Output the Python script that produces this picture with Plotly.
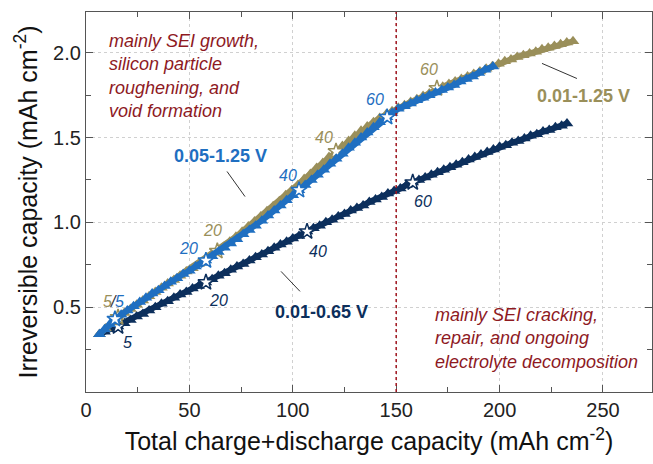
import plotly.graph_objects as go

# ---------------- data ----------------
olive_x = [6.5, 9.5, 12.5, 15.5, 18.5, 21.5, 24.5, 27.5, 30.5, 33.5, 36.5, 39.5, 42.5, 45.5,
           48.5, 51.5, 54.5, 57.5, 60.5, 63.5, 66.5, 69.5, 72.5, 75.5, 78.5, 81.5, 84.5, 87.5,
           90.5, 93.5, 96.5, 99.5, 102.5, 105.5, 108.5, 111.5, 114.5, 117.5, 120.9, 124, 127,
           130, 133, 136, 139, 142, 145, 148, 151, 154, 157, 160, 163, 166, 169.7, 172.5,
           175.5, 178.5, 181.5, 184.5, 187.5, 190.5, 193.5, 196.5, 199.5, 202.5, 205.5, 208.5,
           211.5, 214.5, 217.5, 220.5, 223.5, 226.5, 229.5, 232.5, 235.5]
olive_y = [0.34, 0.375, 0.41, 0.44, 0.465, 0.49, 0.515, 0.54, 0.565, 0.59, 0.615, 0.64, 0.66,
           0.685, 0.71, 0.73, 0.755, 0.78, 0.805, 0.83, 0.855, 0.885, 0.915, 0.945, 0.975,
           1.005, 1.035, 1.065, 1.095, 1.125, 1.16, 1.19, 1.22, 1.255, 1.285, 1.32, 1.35, 1.385,
           1.418, 1.45, 1.48, 1.51, 1.54, 1.565, 1.59, 1.615, 1.635, 1.655, 1.675, 1.69, 1.71,
           1.725, 1.745, 1.76, 1.79, 1.80, 1.815, 1.83, 1.845, 1.86, 1.875, 1.89, 1.905, 1.92,
           1.935, 1.95, 1.96, 1.975, 1.985, 1.995, 2.005, 2.02, 2.03, 2.04, 2.05, 2.06, 2.067]

blue_x = [6.5, 9, 11.5, 14, 17, 20, 23, 26, 29, 32, 35, 38, 41, 44, 47, 50, 53, 56, 58, 61, 64,
          67, 70, 73, 76, 79, 82, 85, 88, 91, 94, 97, 100, 103, 106, 109, 112, 115, 118, 121,
          124, 127, 130, 133, 136, 139, 142, 145.6, 148, 151, 154, 157, 160, 163, 166, 169,
          172, 175, 178, 181, 184, 187, 190, 193, 196.8]
blue_y = [0.34, 0.37, 0.40, 0.43, 0.455, 0.48, 0.505, 0.53, 0.555, 0.58, 0.60, 0.625, 0.65,
          0.67, 0.695, 0.715, 0.74, 0.76, 0.775, 0.80, 0.825, 0.85, 0.875, 0.90, 0.93, 0.955,
          0.98, 1.01, 1.04, 1.07, 1.10, 1.13, 1.16, 1.19, 1.22, 1.25, 1.28, 1.31, 1.345, 1.375,
          1.405, 1.44, 1.47, 1.50, 1.53, 1.56, 1.59, 1.62, 1.645, 1.67, 1.685, 1.70, 1.72,
          1.735, 1.75, 1.765, 1.78, 1.795, 1.81, 1.83, 1.845, 1.86, 1.88, 1.90, 1.919]

navy_x = [6.5, 9, 12, 15.5, 18.5, 21.5, 24.5, 27.5, 30.5, 33.5, 36.5, 39.5, 42.5, 45.5, 48.5,
          51.5, 54.5, 58, 61, 64, 67, 70, 73, 76, 79, 82, 85, 88, 91, 94, 97, 100, 103, 106.9,
          110, 113, 116, 119, 122, 125, 128, 131, 134, 137, 140, 143, 146, 149, 152, 155, 158,
          161, 164, 167, 170, 173, 176, 179, 182, 185, 188, 191, 194, 197, 200, 203, 206, 209,
          212, 215, 218, 221, 224, 227, 230, 232.6]
navy_y = [0.34, 0.355, 0.37, 0.386, 0.405, 0.425, 0.445, 0.46, 0.48, 0.50, 0.52, 0.535, 0.555,
          0.575, 0.59, 0.61, 0.625, 0.646, 0.665, 0.685, 0.70, 0.72, 0.74, 0.755, 0.775, 0.795,
          0.81, 0.83, 0.85, 0.87, 0.885, 0.905, 0.92, 0.946, 0.965, 0.98, 1.00, 1.015, 1.035,
          1.05, 1.07, 1.085, 1.10, 1.12, 1.135, 1.15, 1.17, 1.185, 1.20, 1.22, 1.235, 1.25,
          1.265, 1.28, 1.295, 1.31, 1.325, 1.34, 1.355, 1.37, 1.385, 1.40, 1.415, 1.43, 1.445,
          1.455, 1.47, 1.48, 1.495, 1.51, 1.52, 1.535, 1.545, 1.56, 1.57, 1.583]

# cycle markers (stars) at cycles 5, 20, 40, 60
cycles = ["5", "20", "40", "60"]
olive_star_x = [15.5, 63.5, 120.9, 169.7]
olive_star_y = [0.44, 0.83, 1.418, 1.79]
blue_star_x = [14, 58, 103, 145.6]
blue_star_y = [0.43, 0.775, 1.19, 1.62]
navy_star_x = [15.5, 58, 106.9, 158]
navy_star_y = [0.386, 0.646, 0.946, 1.235]

x_ticks = [0, 50, 100, 150, 200, 250]
y_ticks = [0.5, 1.0, 1.5, 2.0]
y_ticktext = ["0.5", "1.0", "1.5", "2.0"]

# ---------------- style ----------------
OLIVE = "#9a8f5a"
BLUE = "#1f6fc1"
NAVY = "#0c2f5c"
RED = "#8e1a1f"
FONT = "Liberation Sans, Arial, sans-serif"

fig = go.Figure()

def add_series(x, y, sx, sy, color):
    fig.add_trace(go.Scatter(x=x, y=y, mode="lines+markers",
                             line=dict(color=color, width=6),
                             marker=dict(symbol="triangle-up", size=11, color=color,
                                         line=dict(width=0)),
                             hoverinfo="skip", showlegend=False))
    fig.add_trace(go.Scatter(x=sx, y=sy, mode="markers",
                             marker=dict(symbol="star", size=12, color="white",
                                         line=dict(color=color, width=1.5)),
                             text=cycles, hoverinfo="text", showlegend=False))

add_series(navy_x, navy_y, navy_star_x, navy_star_y, NAVY)
add_series(olive_x, olive_y, olive_star_x, olive_star_y, OLIVE)
add_series(blue_x, blue_y, blue_star_x, blue_star_y, BLUE)

# vertical dotted boundary
fig.add_shape(type="line", xref="x", yref="paper", x0=150, x1=150, y0=0, y1=1,
              line=dict(color="#a0141e", width=1.5, dash="dot"))

# leader lines
for (x0, y0, x1, y1) in [(68.2, 1.30, 76.9, 1.152), (220.5, 1.937, 237.4, 1.848),
                         (94.3, 0.711, 103.5, 0.593)]:
    fig.add_shape(type="line", xref="x", yref="y", x0=x0, y0=y0, x1=x1, y1=y1,
                  line=dict(color="#333333", width=1))

ann = []
# series labels
ann.append(dict(x=64.8, y=1.389, text="<b>0.05-1.25 V</b>", font=dict(size=18, color=BLUE)))
ann.append(dict(x=240.8, y=1.742, text="<b>0.01-1.25 V</b>", font=dict(size=18, color=OLIVE)))
ann.append(dict(x=114.1, y=0.469, text="<b>0.01-0.65 V</b>", font=dict(size=18, color=NAVY)))
# region texts
ann.append(dict(x=10.0, y=1.86, xanchor="left", align="left",
                text="<i>mainly SEI growth,<br>silicon particle<br>roughening, and<br>void formation</i>",
                font=dict(size=18, color=RED)))
ann.append(dict(x=168.0, y=0.3125, xanchor="left", align="left",
                text="<i>mainly SEI cracking,<br>repair, and ongoing<br>electrolyte decomposition</i>",
                font=dict(size=18, color=RED)))
# cycle labels
for (x, y, t, c) in [(61.4, 0.952, "20", OLIVE), (115.1, 1.50, "40", OLIVE), (165.9, 1.90, "60", OLIVE),
                     (49.8, 0.846, "20", BLUE), (97.7, 1.277, "40", BLUE), (139.7, 1.725, "60", BLUE),
                     (20.3, 0.292, "5", NAVY), (64.3, 0.54, "20", NAVY), (112.2, 0.828, "40", NAVY),
                     (163.0, 1.123, "60", NAVY),
                     (10.3, 0.534, "5", OLIVE), (13.3, 0.534, "/", "#333333"), (16.2, 0.534, "5", BLUE)]:
    ann.append(dict(x=x, y=y, text="<i>%s</i>" % t, font=dict(size=16, color=c)))
for a in ann:
    a.update(xref="x", yref="y", showarrow=False)
    a["font"]["family"] = FONT

axis_common = dict(showline=True, linecolor="#555555", linewidth=1.2, mirror="ticks",
                   ticks="inside", ticklen=7, tickcolor="#555555", tickwidth=1.2,
                   showgrid=True, gridcolor="#d0d0d0", griddash="dot", gridwidth=1,
                   zeroline=False, tickfont=dict(size=20, color="#222222", family=FONT))

fig.update_xaxes(range=[0, 273.7], tickvals=x_ticks,
                 minor=dict(tickmode="linear", tick0=0, dtick=25, ticks="inside", ticklen=5,
                            tickcolor="#555555", showgrid=False),
                 title=dict(text="Total charge+discharge capacity (mAh cm<sup>-2</sup>)",
                            font=dict(size=25, color="#111111", family=FONT), standoff=12),
                 **axis_common)
fig.update_yaxes(range=[0, 2.24], tickvals=y_ticks, ticktext=y_ticktext,
                 minor=dict(tickmode="linear", tick0=0, dtick=0.25, ticks="inside", ticklen=5,
                            tickcolor="#555555", showgrid=False),
                 title=dict(text="Irreversible capacity (mAh cm<sup>-2</sup>)",
                            font=dict(size=25, color="#111111", family=FONT), standoff=8),
                 **axis_common)

fig.update_layout(width=653, height=464, margin=dict(l=86, r=1, t=12, b=72),
                  paper_bgcolor="white", plot_bgcolor="white", annotations=ann,
                  font=dict(family=FONT), showlegend=False)

fig.write_html("out.html")
